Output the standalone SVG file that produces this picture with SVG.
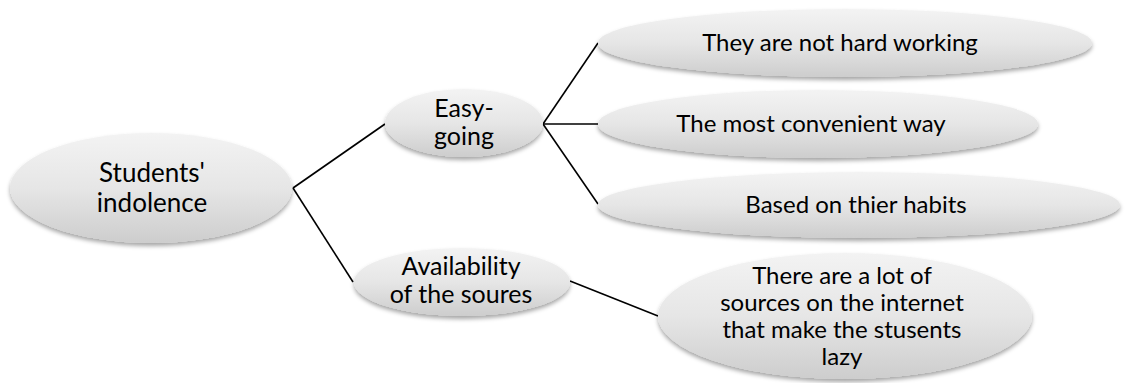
<svg xmlns="http://www.w3.org/2000/svg" width="1133" height="383" viewBox="0 0 1133 383">
<defs>
<linearGradient id="g" x1="0" y1="0" x2="0" y2="1">
<stop offset="0" stop-color="#f3f3f3"/>
<stop offset="0.5" stop-color="#e6e6e6"/>
<stop offset="1" stop-color="#cdcdcd"/>
</linearGradient>
<filter id="sh" x="-10%" y="-20%" width="120%" height="150%">
<feDropShadow dx="0" dy="3" stdDeviation="2" flood-color="#000" flood-opacity="0.35"/>
</filter>
</defs>
<style>
.n ellipse{fill:url(#g);filter:url(#sh);}
.n text{font-family:Lato,"Open Sans",sans-serif;font-size:25px;fill:#000;text-anchor:middle;}
.n text.s{font-size:24px;}
.n text.l{font-size:26px;}
.c line{stroke:#000;stroke-width:1.6;}
</style>
<rect width="1133" height="383" fill="#fff"/>
<g id="connectors" class="c">
<line x1="293" y1="188" x2="385" y2="124"/>
<line x1="293" y1="188" x2="353" y2="282"/>
<line x1="543" y1="124" x2="598" y2="43"/>
<line x1="543" y1="124" x2="598" y2="124"/>
<line x1="543" y1="124" x2="598" y2="204"/>
<line x1="570" y1="281" x2="658" y2="316"/>
</g>
<g id="root" class="n">
<ellipse cx="151" cy="188" rx="141" ry="55"/>
<text class="l" x="152" y="182">Students'</text>
<text class="l" x="152" y="212">indolence</text>
</g>
<g id="easygoing" class="n">
<ellipse cx="464" cy="123" rx="79" ry="34"/>
<text x="464" y="117">Easy-</text>
<text x="464" y="145">going</text>
</g>
<g id="availability" class="n">
<ellipse cx="462" cy="282" rx="108" ry="34"/>
<text x="461" y="275">Availability</text>
<text x="461" y="303">of the soures</text>
</g>
<g id="hardworking" class="n">
<ellipse cx="845" cy="43" rx="247" ry="34"/>
<text class="s" x="840" y="51">They are not hard working</text>
</g>
<g id="convenient" class="n">
<ellipse cx="818" cy="124" rx="220" ry="34"/>
<text class="s" x="811" y="132">The most convenient way</text>
</g>
<g id="habits" class="n">
<ellipse cx="859" cy="205" rx="261" ry="33"/>
<text class="s" x="856" y="213">Based on thier habits</text>
</g>
<g id="sources" class="n">
<ellipse cx="845" cy="316" rx="187" ry="63"/>
<text class="s" x="842" y="284">There are a lot of</text>
<text class="s" x="842" y="311">sources on the internet</text>
<text class="s" x="842" y="338">that make the stusents</text>
<text class="s" x="842" y="365">lazy</text>
</g>
</svg>
